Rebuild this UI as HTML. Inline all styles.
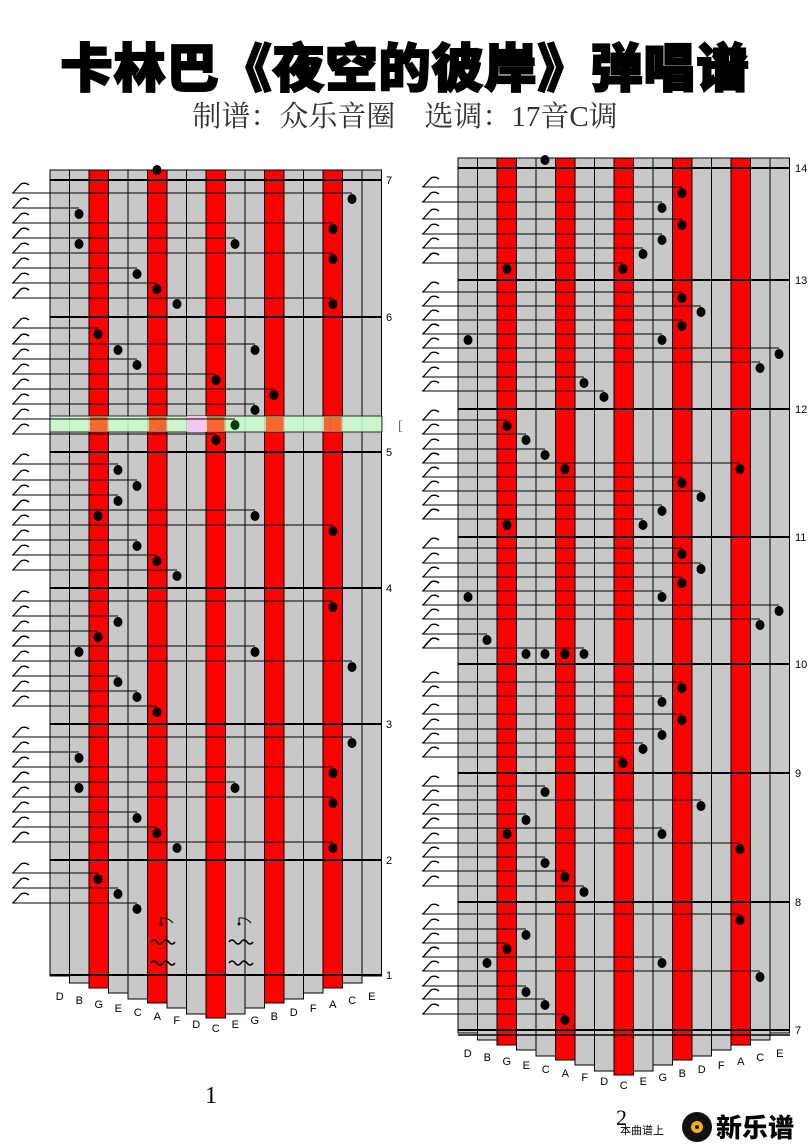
<!DOCTYPE html>
<html><head><meta charset="utf-8">
<style>
body{margin:0;background:#fff;width:810px;height:1146px;overflow:hidden;position:relative}
.t{position:absolute;left:0;width:810px;text-align:center;font-family:"Liberation Sans","Noto Sans CJK SC",sans-serif}
#title{top:38px;font-size:52px;font-weight:900;letter-spacing:1px;-webkit-text-stroke:2px #000;color:#000;line-height:64px}
#sub{top:99px;font-family:"Liberation Serif","Noto Serif CJK SC",serif;font-size:29px;color:#333;line-height:36px}
svg{position:absolute;left:0;top:0}
</style></head><body>
<div class="t" id="title">卡林巴《夜空的彼岸》弹唱谱</div>
<div class="t" id="sub">制谱：众乐音圈　选调：17音C调</div>
<svg id="s" width="810" height="1146" xmlns="http://www.w3.org/2000/svg"></svg>
<script>
var S=document.getElementById('s'),h='';
var labs="D B G E C A F D C E G B D F A C E".split(' ');
var red=[2,5,8,11,14];
var off=[0,7,12,17,23,27,32,38,42,38,32,27,23,17,12,7,0];
function panel(x0,top,base,measures,dots,lineX,numX){
 var w=19.5;
 for(var i=0;i<17;i++){var x=x0+w*i;
  h+='<rect x="'+x+'" y="'+top+'" width="'+w+'" height="'+(base+off[i]+1-top)+'" fill="'+(red.indexOf(i)>=0?'#ff0000':'#c8c8c8')+'" stroke="#000" stroke-width="1"/>';
  h+='<text x="'+(x+w/2)+'" y="'+(base+25+4*Math.min(i,16-i))+'" font-size="11" font-family="Liberation Sans" text-anchor="middle">'+labs[i]+'</text>';}
 measures.forEach(function(m){h+='<line x1="'+x0+'" x2="'+(x0+w*17)+'" y1="'+m[0]+'" y2="'+m[0]+'" stroke="#000" stroke-width="2"/>';
  h+='<text x="'+numX+'" y="'+(m[0]+4)+'" font-size="11" font-family="Liberation Sans">'+m[1]+'</text>';});
 dots.forEach(function(d){var y=d[1]-6;
  if(d[2]!==0){h+='<line x1="'+lineX+'" x2="'+d[0]+'" y1="'+y+'" y2="'+y+'" stroke="#000" stroke-width="1"/>';
  h+='<path d="M'+(lineX+1)+' '+(y)+' L'+(lineX+9)+' '+(y-9)+' Q'+(lineX+13)+' '+(y-11)+' '+(lineX+17)+' '+(y-8)+'" fill="none" stroke="#000" stroke-width="1.3"/>';}
  h+='<ellipse cx="'+d[0]+'" cy="'+d[1]+'" rx="4.5" ry="5" fill="'+(d[2]==2?'#0a3a0a':'#000')+'"/>';});
}
var L=[[352,199],[79,214],[333,229],[79,244],[235,244],[333,259],[137,274],[157,289],[177,304],[333,304],[98,334],[118,350],[255,350],[137,365],[216,380],[274,395],[255,410],[235,425,2],[216,440],[118,470],[137,486],[118,501],[98,516],[255,516],[333,531],[137,546],[157,561],[177,576],[333,607],[118,622],[98,637],[79,652],[255,652],[352,667],[118,682],[137,697],[157,712],[352,743],[79,758],[333,773],[79,788],[235,788],[333,803],[137,818],[157,833],[177,848],[333,848],[98,879],[118,894],[137,909],[157,170,0]];
panel(50,170,975,[[180,7],[317,6],[452,5],[588,4],[724,3],[860,2],[975,1]],[],12,386);
h+='<rect x="50" y="416" width="332" height="16" fill="#ccffcc" fill-opacity="0.85" stroke="#000" stroke-width="0.8"/>';
h+='<rect x="187" y="416" width="19.5" height="16" fill="#f0c8f0"/>';
[89,148,206,265,323].forEach(function(x){h+='<rect x="'+(x+1)+'" y="417" width="17.5" height="14" fill="#ff4a10" fill-opacity="0.8"/>';});
h+='<text x="398" y="430" font-size="14" fill="#666" font-family="Liberation Serif">[</text>';
var hL=h;h='';
panel(0,-1000,-1000,[],L,12,0);
var dL=h;h='';
var R=[[545,160,0],[682,193],[662,208],[682,225],[662,240],[643,254],[507,269],[623,269],[682,298],[701,312],[682,326],[468,340],[662,340],[779,354],[760,368],[584,383],[604,397],[507,426],[526,440],[545,455],[565,469],[740,469],[682,483],[701,497],[662,511],[507,525],[643,525],[682,554],[701,569],[682,583],[468,597],[662,597],[779,611],[760,625],[487,640],[526,654],[545,654],[565,654],[584,654],[682,688],[662,702],[682,720],[662,735],[643,749],[623,763],[545,792],[701,806],[526,820],[507,834],[662,834],[740,849],[545,863],[565,877],[584,892],[740,920],[526,935],[507,949],[487,963],[662,963],[760,977],[526,992],[545,1005],[565,1020]];
panel(458,158,1032,[[168,14],[280,13],[409,12],[537,11],[664,10],[773,9],[902,8],[1030,7]],R,422,795);
h+='<line x1="458" x2="790" y1="1035" y2="1035" stroke="#000" stroke-width="1.5"/>';
function wav(x,y){return '<path d="M'+x+' '+y+' q3 -4 6 0 t6 0 t6 0 t6 0" fill="none" stroke="#000" stroke-width="1.5"/>';}
h+=wav(151,942)+wav(151,963)+wav(229,942)+wav(229,963);
h+='<circle cx="161" cy="924" r="1.5"/><path d="M161 924 V918 Q168 917 173 923" fill="none" stroke="#000"/>';
h+='<circle cx="239" cy="924" r="1.5"/><path d="M239 924 V918 Q246 917 251 923" fill="none" stroke="#000"/>';
h+='<text x="205" y="1103" font-size="24" font-family="Liberation Serif">1</text>';
h+='<text x="616" y="1125" font-size="22" font-family="Liberation Serif">2</text>';
h+='<text x="620" y="1134" font-size="11" font-family="Noto Sans CJK SC,sans-serif">本曲谱上</text>';
h+='<circle cx="697" cy="1127" r="15" fill="#111"/><circle cx="697" cy="1127" r="6" fill="#f0b400"/><circle cx="697" cy="1127" r="2" fill="#111"/>';
h+='<text x="716" y="1137" font-size="26" font-weight="900" font-family="Noto Sans CJK SC,sans-serif">新乐谱</text>';
S.innerHTML=hL+h+dL;
</script>
</body></html>
